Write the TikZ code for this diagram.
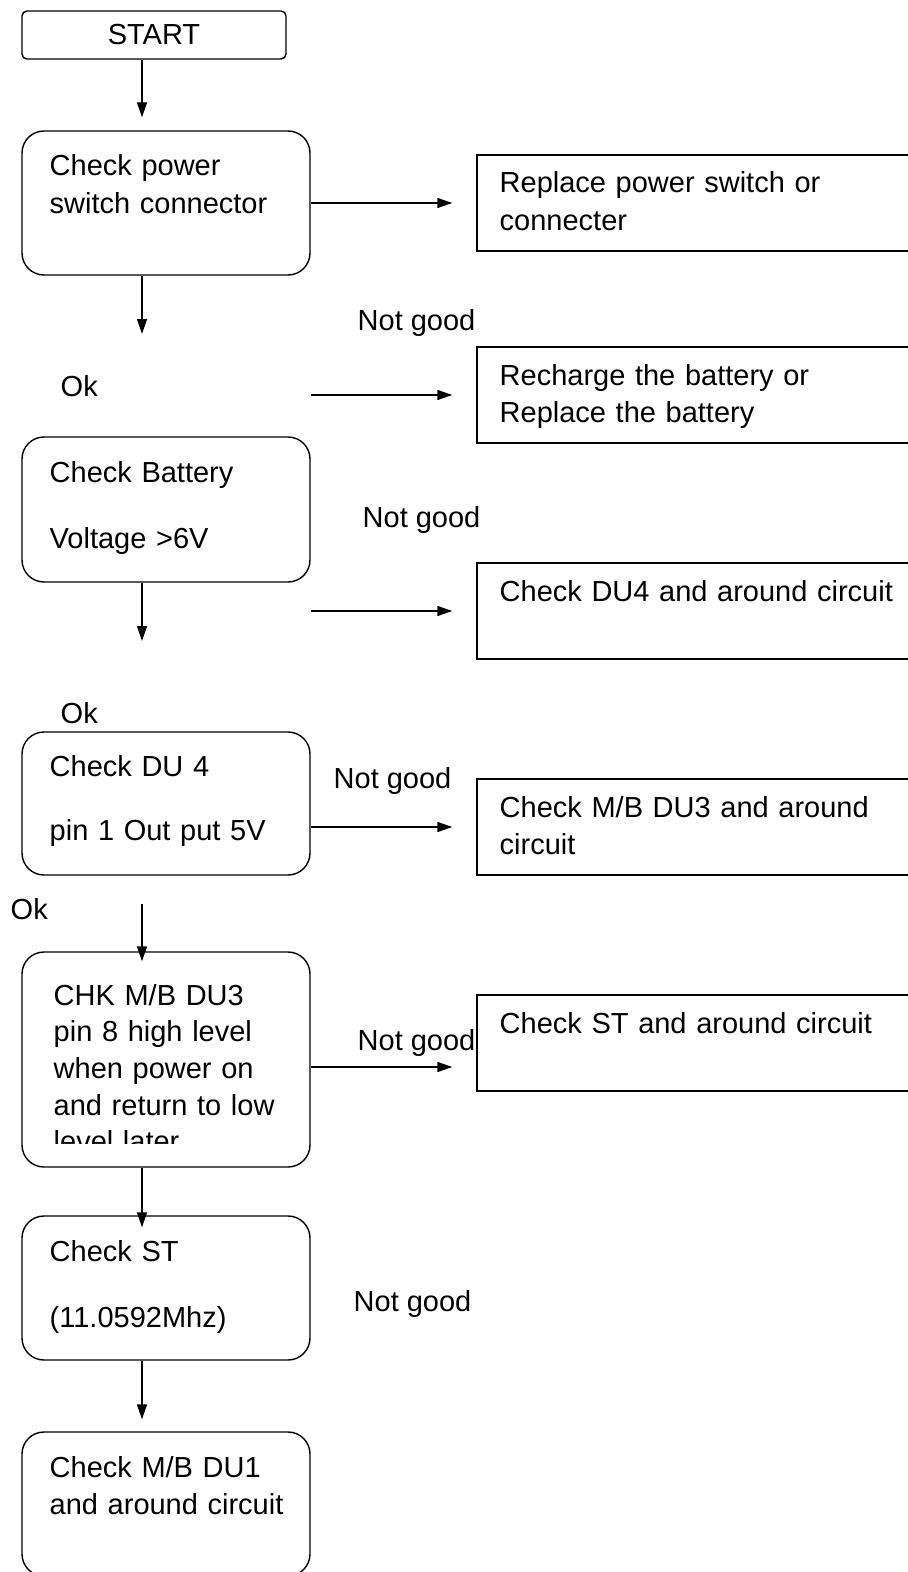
\documentclass[tikz,border=0pt]{standalone}
\usepackage{fontspec}
\setmainfont{Liberation Sans}
\usetikzlibrary{arrows.meta,positioning}

\begin{document}
\begin{tikzpicture}[>={Triangle[length=.3cm,width=.2cm]},line width=.8pt,
  font=\fontsize{16.5}{21.6}\selectfont,
  startbox/.style={draw,rounded corners=.1cm,minimum width=5.28cm,minimum height=.96cm,inner sep=0},
  stepbox/.style={draw,rounded corners=.44cm,minimum width=5.76cm,inner sep=0},
  fixbox/.style={draw,minimum width=9.06cm,minimum height=1.92cm,inner sep=0},
  boxtext/.style={anchor=base west,inner sep=0,align=left,text width=#1},
  lbl/.style={anchor=base west,inner sep=0}]
\useasboundingbox (0,0) rectangle (18.16,-31.44);
% left column
\node[startbox] (start) at (3.08,-.70) {START};
\node[stepbox,minimum height=2.88cm] (power) at (3.32,-4.06) {};
\node[stepbox,minimum height=2.90cm] (battery) at (3.32,-10.19) {};
\node[stepbox,minimum height=2.86cm] (du4) at (3.32,-16.07) {};
\node[stepbox,minimum height=4.30cm] (du3) at (3.32,-21.19) {};
\node[stepbox,minimum height=2.88cm] (st) at (3.32,-25.76) {};
\node[stepbox,minimum height=2.88cm] (du1) at (3.32,-30.08) {};
\node[boxtext=5cm] (power-t) at (.98,-3.52) {Check power\\switch connector};
\node[boxtext=5cm] (battery-t) at (.98,-9.64) {Check Battery\\[16pt]Voltage >6V};
\node[boxtext=5cm] (du4-t) at (.98,-15.52) {Check DU 4\\[15pt]pin 1 Out put 5V};
\begin{scope}
\clip (.44,-19.04) rectangle (6.2,-22.86);
\node[boxtext=5cm,font=\fontsize{16.5}{20.9}\selectfont] (du3-t) at (1.06,-20.10)
  {CHK M/B DU3\\pin 8 high level\\when power on\\and return to low\\level later};
\end{scope}
\node[boxtext=5cm] (st-t) at (.98,-25.22) {Check ST\\[16pt](11.0592Mhz)};
\node[boxtext=5cm] (du1-t) at (.98,-29.54) {Check M/B DU1\\and around circuit};
% right column
\node[fixbox] (fixsw) at (14.07,-4.06) {};
\node[fixbox] (fixbat) at (14.07,-7.90) {};
\node[fixbox] (fixdu4) at (14.07,-12.22) {};
\node[fixbox] (fixdu3) at (14.07,-16.54) {};
\node[fixbox] (fixst) at (14.07,-20.86) {};
\node[boxtext=8cm] (fixsw-t) at (9.98,-3.86) {Replace power switch or\\connecter};
\node[boxtext=8cm] (fixbat-t) at (9.98,-7.70) {Recharge the battery or\\Replace the battery};
\node[boxtext=8cm] (fixdu4-t) at (9.98,-12.02) {Check DU4 and around circuit};
\node[boxtext=8cm] (fixdu3-t) at (9.98,-16.34) {Check M/B DU3 and around\\circuit};
\node[boxtext=8cm] (fixst-t) at (9.98,-20.66) {Check ST and around circuit};
% labels
\node[lbl] (ng1) at (7.14,-6.60) {Not good};
\node[lbl] (ok1) at (1.20,-7.92) {Ok};
\node[lbl] (ng2) at (7.24,-10.54) {Not good};
\node[lbl] (ok2) at (1.20,-14.46) {Ok};
\node[lbl] (ng3) at (6.66,-15.76) {Not good};
\node[lbl] (ok3) at (.20,-18.38) {Ok};
\node[lbl] (ng4) at (7.14,-21.00) {Not good};
\node[lbl] (ng5) at (7.06,-26.22) {Not good};
% arrows
\coordinate (spine) at (2.84,0);
\coordinate (t2) at (2.84,-6.68);
\coordinate (t3) at (2.84,-12.82);
\coordinate (s4) at (2.84,-18.08);
\draw[->,shorten >=.26cm] (start.south -| spine) -- (power.north -| spine);
\draw[->] (power.south -| spine) -- (t2);
\draw[->] (battery.south -| spine) -- (t3);
\draw[->] (s4) -- ([yshift=-.2cm]du3.north -| spine);
\draw[->] (du3.south -| spine) -- ([yshift=-.24cm]st.north -| spine);
\draw[->,shorten >=.24cm] (st.south -| spine) -- (du1.north -| spine);
\draw[->,shorten >=.48cm] (power.east) -- (fixsw.west);
\draw[->,shorten >=.48cm] (fixbat.west -| power.east) -- (fixbat.west);
\draw[->,shorten >=.48cm] (fixdu4.west -| battery.east) -- (fixdu4.west);
\draw[->,shorten >=.48cm] (fixdu3.west -| du4.east) -- (fixdu3.west);
\draw[->,shorten >=.48cm] ([yshift=-.48cm]fixst.west -| du3.east) -- ([yshift=-.48cm]fixst.west);
\end{tikzpicture}
\end{document}
